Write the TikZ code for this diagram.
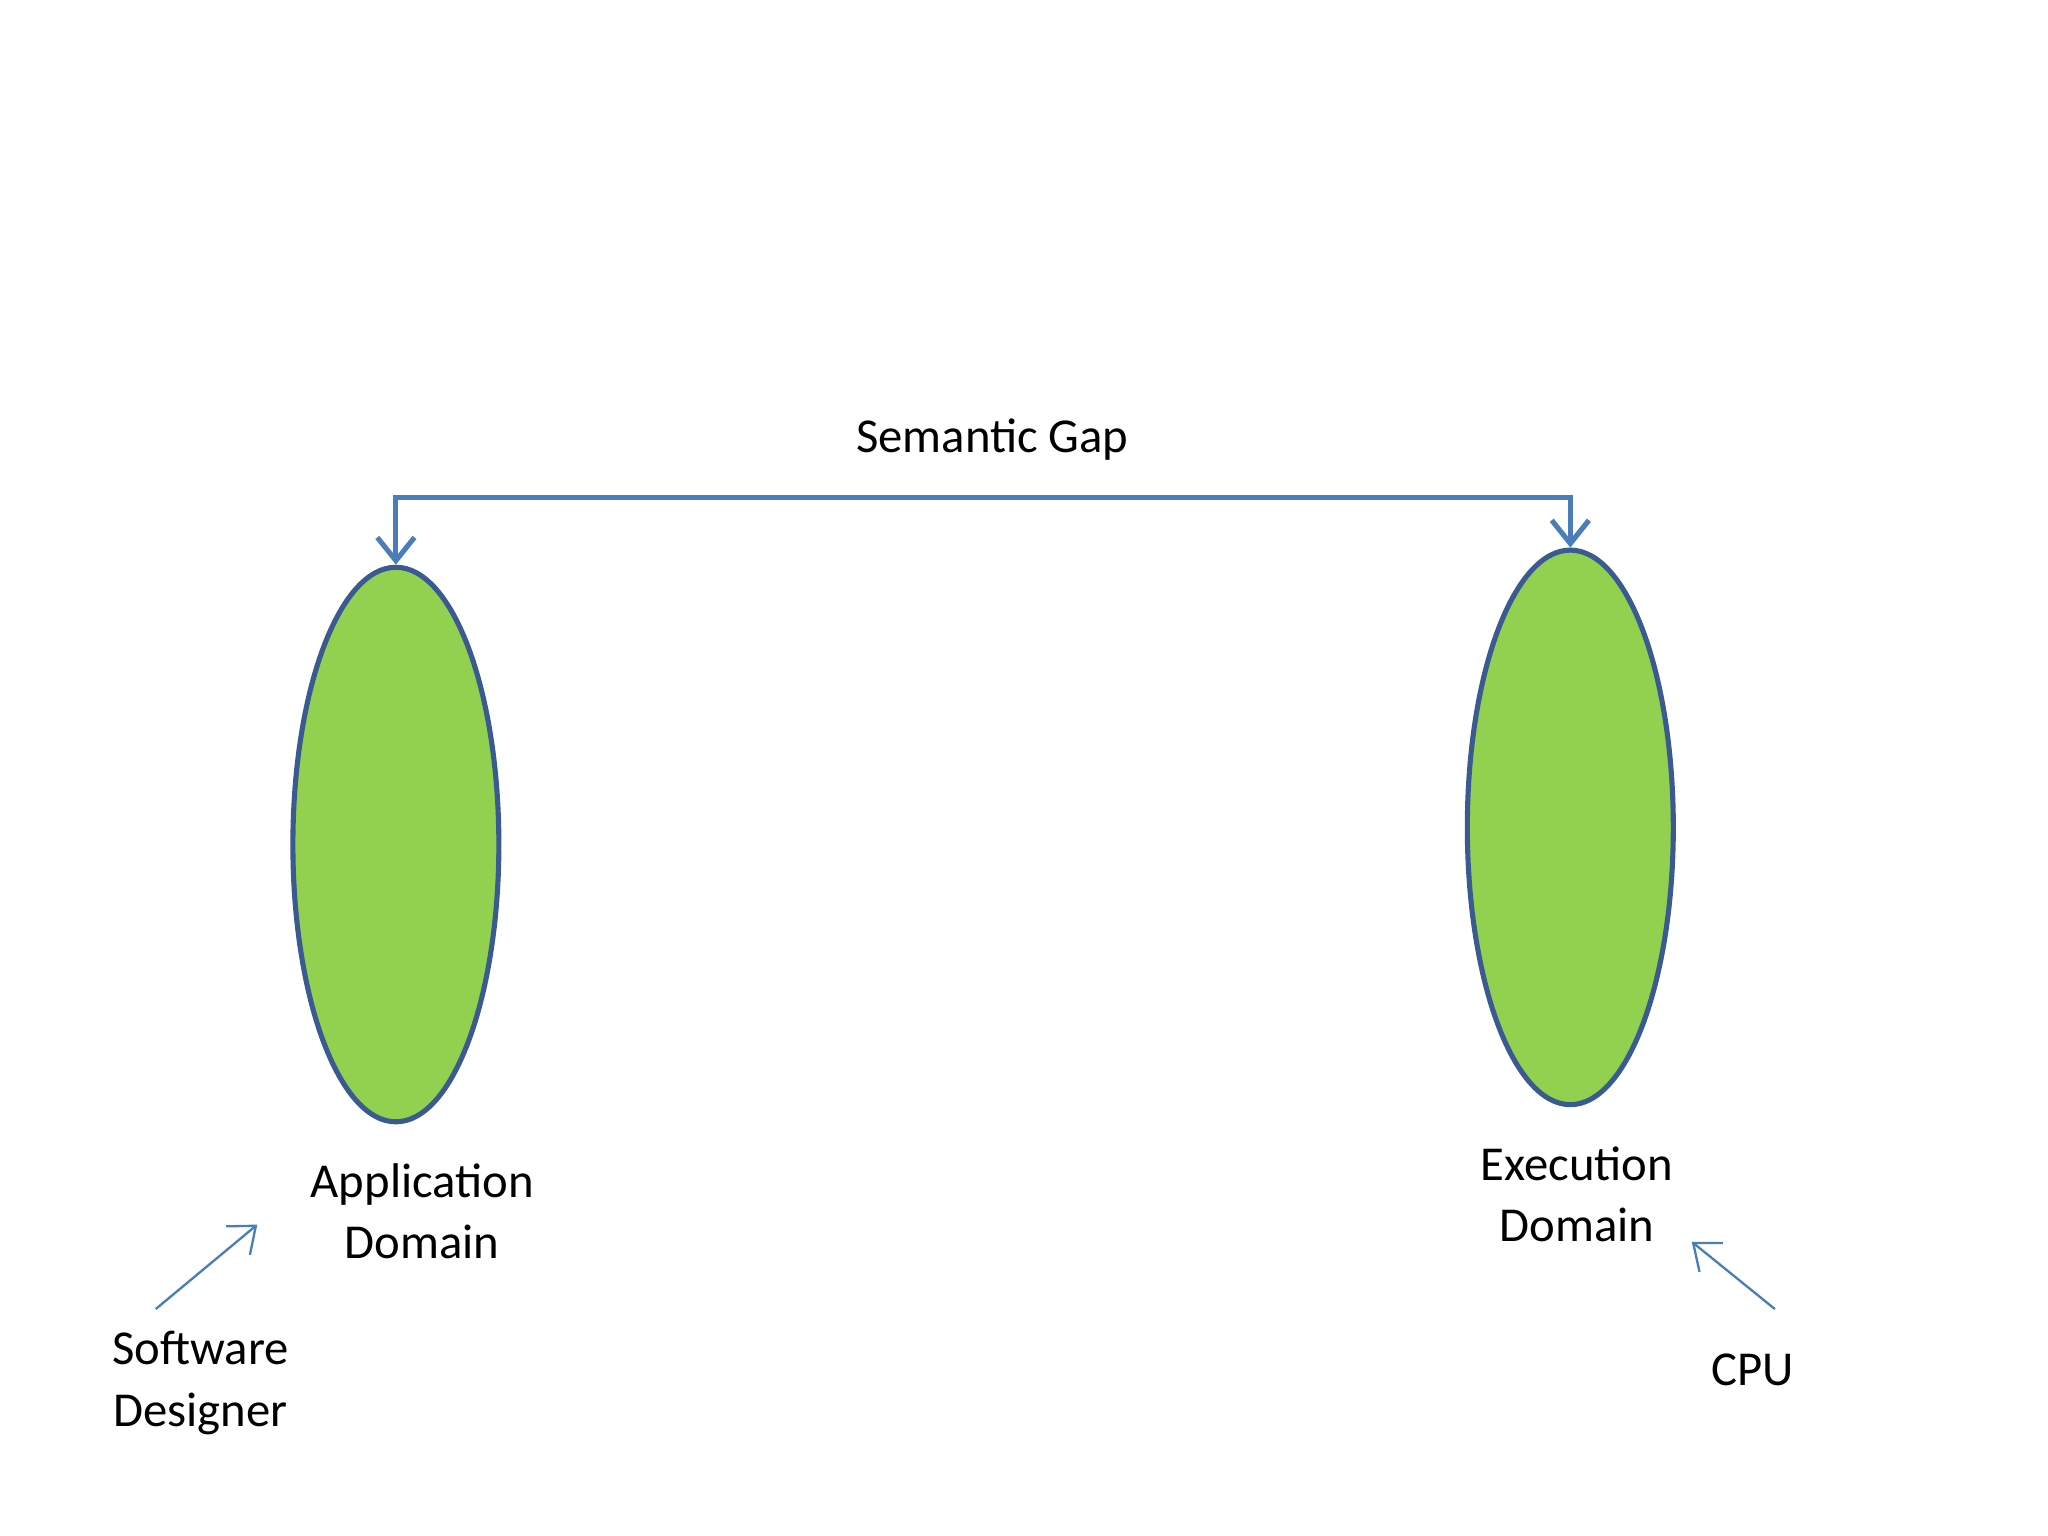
\documentclass[tikz,border=0pt]{standalone}
\usepackage{fontspec}
\setmainfont{Carlito}
\usetikzlibrary{shapes.geometric,arrows.meta}
\definecolor{domfill}{HTML}{92D050}
\definecolor{domline}{HTML}{3B5A91}
\definecolor{gapline}{HTML}{4A7EBB}
\tikzset{
  dom/.style={ellipse, draw=domline, line width=1.1pt, fill=domfill, minimum width=1.56cm, minimum height=4.2cm, inner sep=0pt},
  lbl/.style={align=center, font=\fontsize{10.5}{13.3}\selectfont},
  gap/.style={draw=gapline, line width=1.1pt, {Straight Barb[length=5pt,width=8pt]}-{Straight Barb[length=5pt,width=8pt]}},
  hint/.style={draw=gapline, line width=0.5pt, -{Straight Barb[length=5pt,width=8pt]}}
}
\begin{document}
\begin{tikzpicture}[x=0.01cm,y=-0.01cm]
\useasboundingbox (0,0) rectangle (1552,1164);
\node[dom] (app) at (300,640) {};
\node[dom] (exe) at (1190,627) {};
\node[lbl] (gaplbl) at (752,333) {Semantic Gap};
\node[lbl] (applbl) at (320,918) {Application\\Domain};
\node[lbl] (exelbl) at (1195,905) {Execution\\Domain};
\node[lbl] (sw) at (152,1048) {Software\\Designer};
\node[lbl] (cpu) at (1328,1038) {CPU};
\coordinate (swtail) at (118,992);
\coordinate (swhead) at (195,928);
\coordinate (cputail) at (1345,992);
\coordinate (cpuhead) at (1282,941);
\draw[gap] (app.north) -- ++(0,-51) -| (exe.north);
\draw[hint] (swtail) -- (swhead);
\draw[hint] (cputail) -- (cpuhead);
\end{tikzpicture}
\end{document}
